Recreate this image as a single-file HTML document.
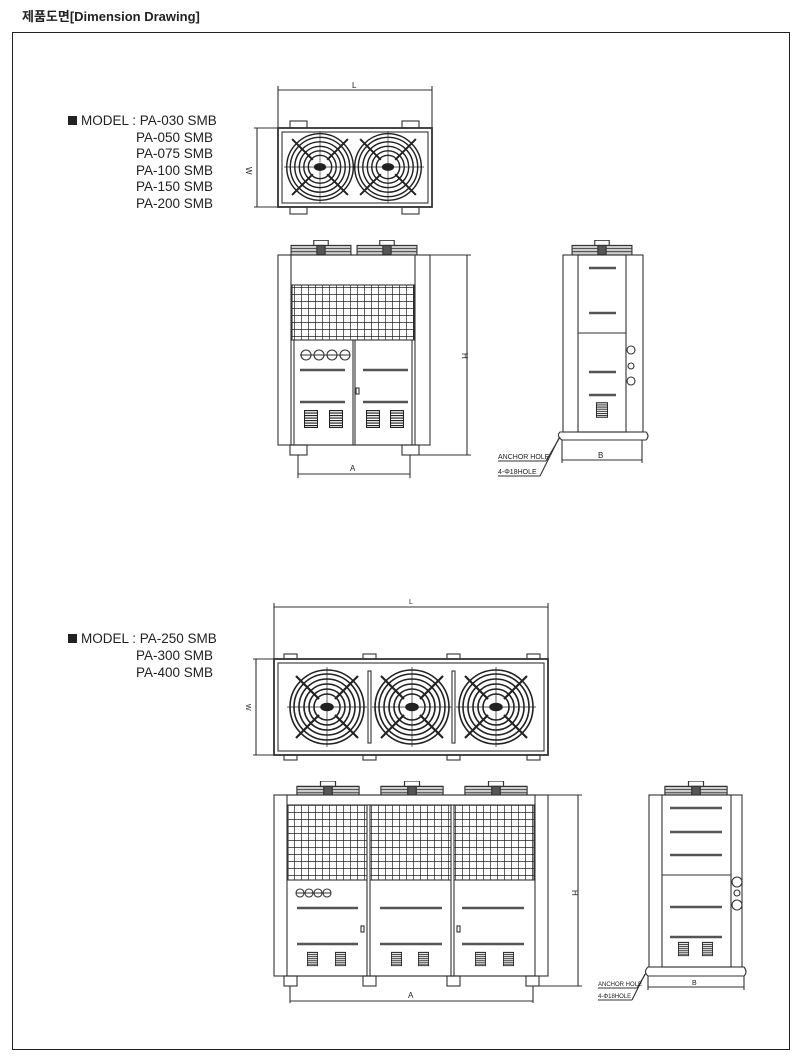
<!DOCTYPE html>
<html><head><meta charset="utf-8"><style>
html,body{margin:0;padding:0;background:#fff;width:801px;height:1058px;overflow:hidden}
svg{display:block}
.t{font-family:"Liberation Sans","Noto Sans CJK KR",sans-serif;fill:#222}
</style></head><body>
<svg width="801" height="1058" viewBox="0 0 801 1058" xmlns="http://www.w3.org/2000/svg">
<defs>
<symbol id="fan" viewBox="-40 -40 80 80">
 <g fill="none" stroke="#222" stroke-width="1.6">
 <circle r="37"/><circle r="33"/><circle r="28"/><circle r="23"/><circle r="18"/><circle r="13"/>
 <ellipse rx="6" ry="3.5" fill="#222"/>
 <line x1="-31" y1="-31" x2="-8" y2="-8" stroke-width="2.2"/><line x1="31" y1="-31" x2="8" y2="-8" stroke-width="2.2"/>
 <line x1="-31" y1="31" x2="-8" y2="8" stroke-width="2.2"/><line x1="31" y1="31" x2="8" y2="8" stroke-width="2.2"/>
 <line x1="-40" y1="0" x2="40" y2="0" stroke-width="0.7"/><line x1="0" y1="-40" x2="0" y2="40" stroke-width="0.7"/>
 </g>
</symbol>
<pattern id="grid" width="7" height="7" patternUnits="userSpaceOnUse">
 <path d="M0 0H7M0 0V7" stroke="#222" stroke-width="1.4" fill="none"/>
</pattern>
<pattern id="louv" width="4" height="2.5" patternUnits="userSpaceOnUse">
 <path d="M0 0.5H4" stroke="#222" stroke-width="1.3"/>
</pattern>
<symbol id="lv" viewBox="0 0 14 18"><rect x="0.5" y="0.5" width="13" height="17" fill="url(#louv)" stroke="#222"/></symbol>
<symbol id="fh" viewBox="0 0 62 14">
 <path d="M2 14V5H60V14" fill="#ccc" stroke="#333"/><path d="M2 8H60M2 11H60" stroke="#444" stroke-width="0.9"/>
 <rect x="24" y="0" width="14" height="5" fill="#fff" stroke="#333"/><rect x="27" y="5" width="8" height="9" fill="#555"/>
</symbol>
</defs>

<text x="22" y="21" class="t" font-size="13" font-weight="bold">제품도면[Dimension Drawing]</text>
<rect x="12.5" y="32.5" width="777" height="1017" fill="none" stroke="#222" stroke-width="1"/>

<g class="t" font-size="13.5" fill="#333">
<rect x="68" y="116" width="9" height="9" fill="#222"/>
<text x="81" y="125">MODEL : PA-030 SMB</text>
<text x="136" y="142">PA-050 SMB</text>
<text x="136" y="158">PA-075 SMB</text>
<text x="136" y="175">PA-100 SMB</text>
<text x="136" y="191">PA-150 SMB</text>
<text x="136" y="208">PA-200 SMB</text>
<rect x="68" y="634" width="9" height="9" fill="#222"/>
<text x="81" y="643">MODEL : PA-250 SMB</text>
<text x="136" y="660">PA-300 SMB</text>
<text x="136" y="677">PA-400 SMB</text>
</g>

<g fill="none" stroke="#333" stroke-width="1.1">
<line x1="278" y1="90" x2="432" y2="90"/><line x1="278" y1="86" x2="278" y2="128"/><line x1="432" y1="86" x2="432" y2="128"/>
<line x1="257" y1="128" x2="257" y2="207"/><line x1="254" y1="128" x2="278" y2="128"/><line x1="254" y1="207" x2="278" y2="207"/>
<rect x="278" y="128" width="154" height="79" stroke-width="1.8"/>
<rect x="282" y="132" width="146" height="71"/>
<rect x="290" y="121" width="17" height="7"/><rect x="402" y="121" width="17" height="7"/>
<rect x="290" y="207" width="17" height="7"/><rect x="402" y="207" width="17" height="7"/>
<use href="#fan" x="284" y="131" width="72" height="72"/>
<use href="#fan" x="352" y="131" width="72" height="72"/>

<use href="#fh" x="289" y="240" width="64" height="15"/>
<use href="#fh" x="355" y="240" width="64" height="15"/>
<rect x="278" y="255" width="152" height="190" fill="#fff"/>
<rect x="291" y="255" width="124" height="190"/>
<rect x="292" y="285" width="122" height="55" fill="url(#grid)"/>
<line x1="292" y1="285" x2="414" y2="285"/><line x1="292" y1="340" x2="414" y2="340"/>
<line x1="294" y1="340" x2="294" y2="445"/><line x1="353" y1="340" x2="353" y2="445"/><line x1="355" y1="340" x2="355" y2="445"/><line x1="412" y1="340" x2="412" y2="445"/>
<g stroke-width="2.5" stroke="#555"><line x1="300" y1="370" x2="345" y2="370"/><line x1="363" y1="370" x2="408" y2="370"/><line x1="300" y1="402" x2="345" y2="402"/><line x1="363" y1="402" x2="408" y2="402"/></g>
<circle cx="306" cy="355" r="5"/><circle cx="319" cy="355" r="5"/><circle cx="332" cy="355" r="5"/><circle cx="345" cy="355" r="5"/>
<line x1="300" y1="355" x2="350" y2="355"/>
<rect x="356" y="388" width="3" height="6"/>
<use href="#lv" x="304" y="410" width="14" height="18"/><use href="#lv" x="329" y="410" width="14" height="18"/>
<use href="#lv" x="366" y="410" width="14" height="18"/><use href="#lv" x="390" y="410" width="14" height="18"/>
<rect x="290" y="445" width="17" height="10"/><rect x="402" y="445" width="17" height="10"/>
<line x1="430" y1="255" x2="471" y2="255"/><line x1="419" y1="455" x2="471" y2="455"/><line x1="467" y1="255" x2="467" y2="455"/>
<line x1="298" y1="455" x2="298" y2="478"/><line x1="410" y1="455" x2="410" y2="478"/><line x1="298" y1="474" x2="410" y2="474"/>

<use href="#fh" x="570" y="240" width="64" height="15"/>
<rect x="563" y="255" width="80" height="177" fill="#fff"/>
<rect x="578" y="255" width="48" height="177"/>
<line x1="578" y1="333" x2="626" y2="333"/>
<g stroke-width="2.5" stroke="#555"><line x1="589" y1="268" x2="616" y2="268"/><line x1="589" y1="313" x2="616" y2="313"/><line x1="589" y1="372" x2="616" y2="372"/><line x1="589" y1="395" x2="616" y2="395"/></g>
<circle cx="631" cy="350" r="4"/><circle cx="631" cy="366" r="3"/><circle cx="631" cy="381" r="4"/>
<use href="#lv" x="596" y="401" width="12" height="18"/>
<path d="M560 432H646Q650 436 646 440H562Q556 436 560 432Z"/>
<line x1="562" y1="440" x2="562" y2="463"/><line x1="642" y1="440" x2="642" y2="463"/><line x1="562" y1="460" x2="642" y2="460"/>
<line x1="498" y1="461" x2="546" y2="461"/><line x1="546" y1="461" x2="560" y2="437"/>
<line x1="498" y1="476" x2="540" y2="476"/><line x1="540" y1="476" x2="559" y2="438"/>

<line x1="274" y1="607" x2="548" y2="607"/><line x1="274" y1="603" x2="274" y2="659"/><line x1="548" y1="603" x2="548" y2="659"/>
<line x1="256" y1="659" x2="256" y2="755"/><line x1="253" y1="659" x2="274" y2="659"/><line x1="253" y1="755" x2="274" y2="755"/>
<rect x="274" y="659" width="274" height="96" stroke-width="1.8"/>
<rect x="278" y="663" width="266" height="88"/>
<rect x="284" y="654" width="13" height="5"/><rect x="363" y="654" width="13" height="5"/><rect x="447" y="654" width="13" height="5"/><rect x="527" y="654" width="13" height="5"/>
<rect x="284" y="755" width="13" height="5"/><rect x="363" y="755" width="13" height="5"/><rect x="447" y="755" width="13" height="5"/><rect x="527" y="755" width="13" height="5"/>
<rect x="368" y="671" width="3" height="72"/><rect x="452" y="671" width="3" height="72"/>
<use href="#fan" x="287" y="667" width="80" height="80"/>
<use href="#fan" x="372" y="667" width="80" height="80"/>
<use href="#fan" x="456" y="667" width="80" height="80"/>

<use href="#fh" x="290" y="781" width="76" height="15"/>
<use href="#fh" x="374" y="781" width="76" height="15"/>
<use href="#fh" x="458" y="781" width="76" height="15"/>
<rect x="274" y="795" width="274" height="181" fill="#fff"/>
<rect x="287" y="795" width="248" height="181"/>
<rect x="288" y="805" width="246" height="75" fill="url(#grid)"/>
<line x1="288" y1="880" x2="534" y2="880"/>
<rect x="367" y="805" width="3" height="171" fill="#fff"/><rect x="451" y="805" width="3" height="171" fill="#fff"/>
<g stroke-width="2.5" stroke="#555">
<line x1="297" y1="908" x2="358" y2="908"/><line x1="380" y1="908" x2="442" y2="908"/><line x1="462" y1="908" x2="524" y2="908"/>
<line x1="297" y1="944" x2="358" y2="944"/><line x1="380" y1="944" x2="442" y2="944"/><line x1="462" y1="944" x2="524" y2="944"/></g>
<circle cx="300" cy="893" r="4"/><circle cx="309" cy="893" r="4"/><circle cx="318" cy="893" r="4"/><circle cx="327" cy="893" r="4"/>
<line x1="296" y1="893" x2="331" y2="893"/>
<rect x="361" y="926" width="3" height="6"/><rect x="457" y="926" width="3" height="6"/>
<use href="#lv" x="307" y="951" width="11" height="16"/><use href="#lv" x="335" y="951" width="11" height="16"/>
<use href="#lv" x="391" y="951" width="11" height="16"/><use href="#lv" x="418" y="951" width="11" height="16"/>
<use href="#lv" x="475" y="951" width="11" height="16"/><use href="#lv" x="503" y="951" width="11" height="16"/>
<rect x="284" y="976" width="13" height="10"/><rect x="363" y="976" width="13" height="10"/><rect x="447" y="976" width="13" height="10"/><rect x="526" y="976" width="13" height="10"/>
<line x1="548" y1="795" x2="582" y2="795"/><line x1="539" y1="986" x2="582" y2="986"/><line x1="578" y1="795" x2="578" y2="986"/>
<line x1="290" y1="986" x2="290" y2="1003"/><line x1="533" y1="986" x2="533" y2="1003"/><line x1="290" y1="1001" x2="533" y2="1001"/>

<use href="#fh" x="660" y="781" width="72" height="15"/>
<rect x="649" y="795" width="93" height="172" fill="#fff"/>
<rect x="662" y="795" width="69" height="172"/>
<line x1="662" y1="875" x2="731" y2="875"/>
<g stroke-width="2.5" stroke="#555"><line x1="670" y1="808" x2="722" y2="808"/><line x1="670" y1="832" x2="722" y2="832"/><line x1="670" y1="855" x2="722" y2="855"/><line x1="670" y1="907" x2="722" y2="907"/><line x1="670" y1="937" x2="722" y2="937"/></g>
<circle cx="737" cy="882" r="5"/><circle cx="737" cy="893" r="3"/><circle cx="737" cy="905" r="5"/>
<use href="#lv" x="678" y="941" width="11" height="16"/><use href="#lv" x="702" y="941" width="11" height="16"/>
<path d="M648 967H744Q748 972 744 976H648Q643 972 648 967Z"/>
<line x1="648" y1="976" x2="648" y2="990"/><line x1="744" y1="976" x2="744" y2="990"/><line x1="648" y1="987" x2="744" y2="987"/>
<line x1="598" y1="988" x2="637" y2="988"/><line x1="637" y1="988" x2="646" y2="973"/>
<line x1="598" y1="1000" x2="632" y2="1000"/><line x1="632" y1="1000" x2="645" y2="974"/>
</g>

<g class="t" font-size="8" fill="#222">
<text x="352" y="88">L</text>
<text x="250" y="171" transform="rotate(90 250 167)" font-size="8">W</text>
<text x="350" y="471">A</text>
<text x="462" y="353" transform="rotate(90 462 353)">H</text>
<text x="598" y="458">B</text>
<text x="498" y="459" font-size="7">ANCHOR HOLE</text>
<text x="498" y="474" font-size="7">4-Φ18HOLE</text>
<text x="409" y="604" font-size="7">L</text>
<text x="249" y="707" transform="rotate(90 249 704)" font-size="7">W</text>
<text x="408" y="998">A</text>
<text x="572" y="890" transform="rotate(90 572 890)">H</text>
<text x="692" y="985" font-size="7">B</text>
<text x="598" y="986" font-size="6">ANCHOR HOLE</text>
<text x="598" y="998" font-size="6">4-Φ18HOLE</text>
</g>
</svg>
</body></html>
